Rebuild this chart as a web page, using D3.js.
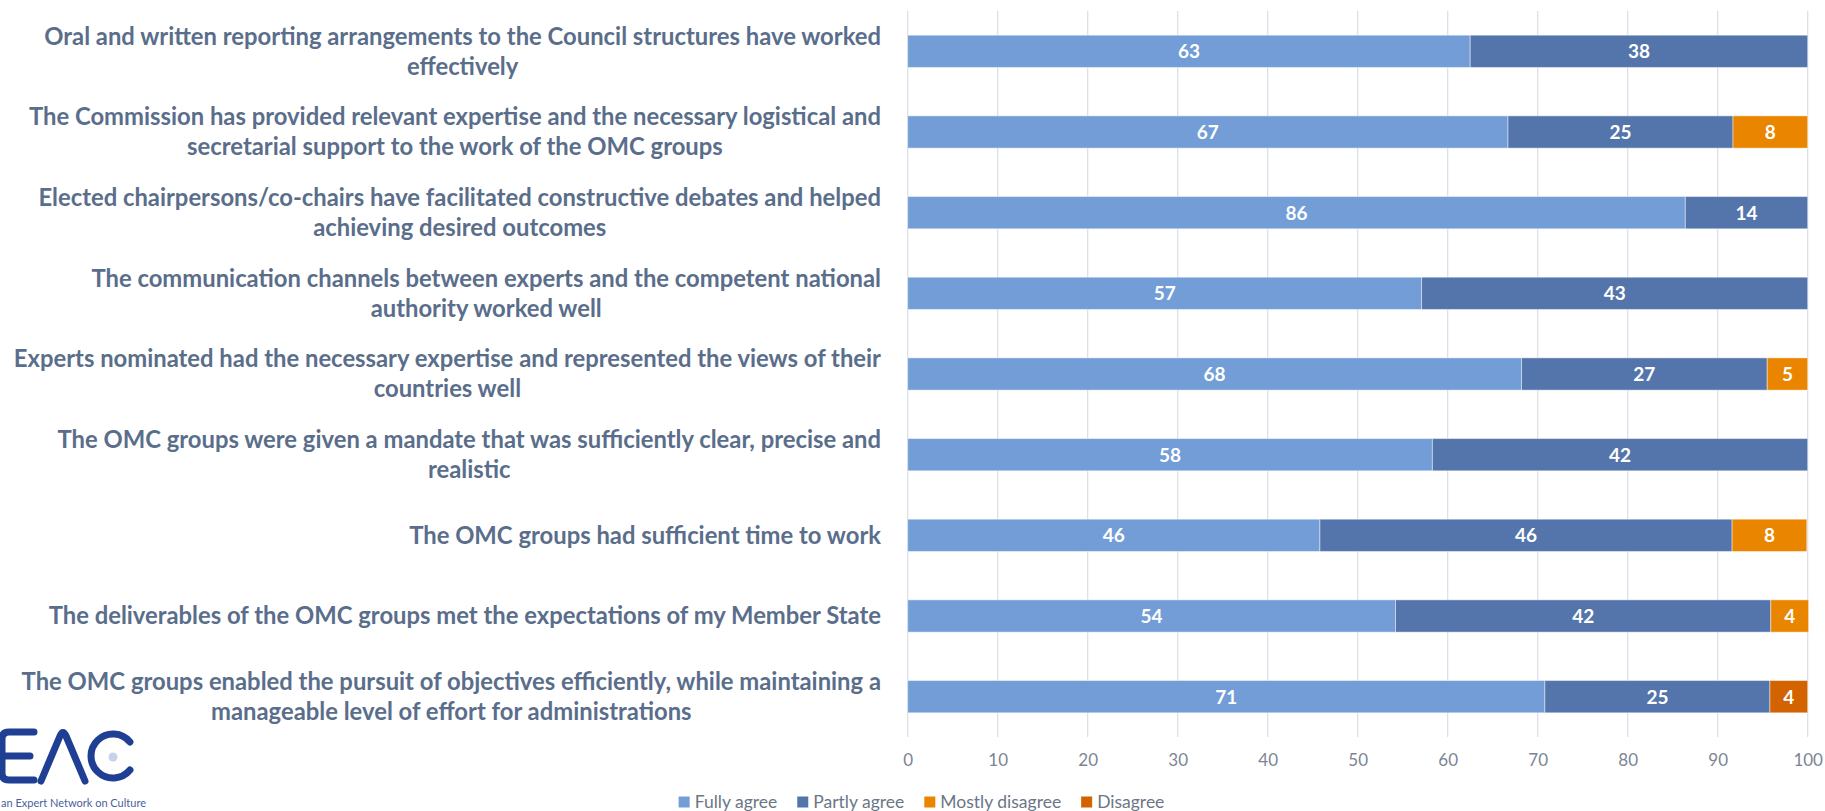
<!DOCTYPE html>
<html>
<head>
<meta charset="utf-8">
<script src="https://cdn.jsdelivr.net/npm/d3@7"></script>
<style>
  html, body { margin: 0; padding: 0; background: #fff; }
  svg { display: block; }
</style>
</head>
<body>
<svg id="chart" width="1825" height="811"></svg>
<script>
// ---- data ----
const categories = [
  "Oral and written reporting arrangements to the Council structures have worked\neffectively",
  "The Commission has provided relevant expertise and the necessary logistical and\nsecretarial support to the work of the OMC groups",
  "Elected chairpersons/co-chairs have facilitated constructive debates and helped\nachieving desired outcomes",
  "The communication channels between experts and the competent national\nauthority worked well",
  "Experts nominated had the necessary expertise and represented the views of their\ncountries well",
  "The OMC groups were given a mandate that was sufficiently clear, precise and\nrealistic",
  "The OMC groups had sufficient time to work",
  "The deliverables of the OMC groups met the expectations of my Member State",
  "The OMC groups enabled the pursuit of objectives efficiently, while maintaining a\nmanageable level of effort for administrations"
];
const seriesNames = ["Fully agree", "Partly agree", "Mostly disagree", "Disagree"];
const fullyAgree     = [62.5, 66.7, 86.4, 57.1, 68.2, 58.3, 45.8, 54.2, 70.8];
const partlyAgree    = [37.5, 25.0, 13.6, 42.9, 27.3, 41.7, 45.8, 41.7, 25.0];
const mostlyDisagree = [0,    8.3,  0,    0,    4.5,  0,    8.3,  4.2,  0];
const disagree       = [0,    0,    0,    0,    0,    0,    0,    0,    4.2];
const xTicks = [0, 10, 20, 30, 40, 50, 60, 70, 80, 90, 100];
const colors = ["#729dd6", "#5475ab", "#ea8500", "#d26300"];

// ---- layout ----
const svg = d3.select("#chart");
const plot = { left: 907.7, right: 1807.7, top: 11, bottom: 737 };
const x = d3.scaleLinear().domain([0, 100]).range([plot.left, plot.right]);
const y = d3.scaleBand().domain(d3.range(categories.length))
  .range([plot.top, plot.bottom]).paddingInner(0.6).paddingOuter(0.3);

const rows = categories.map((c, i) => ({
  i, c,
  "Fully agree": fullyAgree[i],
  "Partly agree": partlyAgree[i],
  "Mostly disagree": mostlyDisagree[i],
  "Disagree": disagree[i]
}));
const stacked = d3.stack().keys(seriesNames)(rows);

// gridlines
svg.append("g").selectAll("line").data(xTicks).join("line")
  .attr("x1", d => x(d)).attr("x2", d => x(d))
  .attr("y1", plot.top).attr("y2", plot.bottom)
  .attr("stroke", "#d9dee7").attr("stroke-width", 1.2);

// bars
const layers = svg.append("g").selectAll("g").data(stacked).join("g")
  .attr("fill", (d, k) => colors[k]);
layers.selectAll("rect").data(d => d.filter(p => p[1] - p[0] > 0)).join("rect")
  .attr("x", d => x(d[0]))
  .attr("width", d => x(d[1]) - x(d[0]))
  .attr("y", d => y(d.data.i))
  .attr("height", y.bandwidth())
  .attr("stroke", "rgba(255,255,255,0.45)").attr("stroke-width", 1);

// data labels
layers.selectAll("text").data(d => d.filter(p => p[1] - p[0] > 0)).join("text")
  .attr("x", d => (x(d[0]) + x(d[1])) / 2)
  .attr("y", d => y(d.data.i) + y.bandwidth() / 2)
  .attr("dy", "0.36em")
  .attr("text-anchor", "middle")
  .attr("fill", "#fff")
  .attr("font-family", "Lato, 'Open Sans', sans-serif")
  .attr("font-weight", 700)
  .attr("font-size", 19)
  .text(d => (d[1] - d[0]).toFixed(0));

// x axis tick labels
const xAxis = d3.axisBottom(x).tickValues(xTicks).tickSize(0).tickPadding(0);
const ax = svg.append("g").attr("transform", `translate(0,${plot.bottom + 17})`).call(xAxis);
ax.select(".domain").remove();
ax.selectAll("text")
  .attr("fill", "#7b8594")
  .attr("font-family", "Lato, 'Open Sans', sans-serif")
  .attr("font-size", 17);

// category labels
const labelRight = 881;
const labelFont = "Lato, 'Open Sans', sans-serif";
const lab = svg.append("g").attr("font-family", labelFont).attr("font-weight", 700)
  .attr("fill", "#5a6e8b");
const probe = lab.append("text").attr("font-size", 20).text(categories[0].split("\n")[0]);
const w20 = probe.node().getComputedTextLength();
probe.remove();
const fs = 20 * 837 / w20;
lab.attr("font-size", fs);
const lineH = 30;
categories.forEach((c, i) => {
  const lines = c.split("\n");
  const cy = y(i) + y.bandwidth() / 2;
  const g = lab.append("g");
  const texts = lines.map((ln, j) => g.append("text")
    .attr("y", cy + (j - (lines.length - 1) / 2) * lineH)
    .attr("dy", "0.35em").text(ln));
  const maxW = d3.max(texts, t => t.node().getComputedTextLength());
  const cx = labelRight - maxW / 2;
  texts.forEach(t => t.attr("x", cx).attr("text-anchor", "middle"));
});

// legend (laid out by measured widths, centred like the reference)
const legendFont = 17.5;
const leg = svg.append("g").attr("font-family", "Lato, 'Open Sans', sans-serif")
  .attr("font-size", legendFont).attr("fill", "#6b7686");
const sq = 11, sqGap = 5, itemGap = 20;
const items = seriesNames.map((s, k) => {
  const g = leg.append("g");
  g.append("rect").attr("x", 0).attr("y", -sq / 2).attr("width", sq).attr("height", sq).attr("fill", colors[k]);
  const t = g.append("text").attr("x", sq + sqGap).attr("dy", "0.35em").text(s);
  return { g, w: sq + sqGap + t.node().getComputedTextLength() };
});
const totalW = d3.sum(items, d => d.w) + itemGap * (items.length - 1);
let lx = 921.5 - totalW / 2;
items.forEach(it => { it.g.attr("transform", `translate(${lx},802)`); lx += it.w + itemGap; });

// logo (EAC)
const logo = svg.append("g").attr("fill", "none").attr("stroke", "#1f3f95")
  .attr("stroke-width", 7).attr("stroke-linecap", "round").attr("stroke-linejoin", "round");
logo.append("path").attr("d", "M34,732 H9 Q2,732 2,739 V773 Q2,780 9,780 H34 M2,756 H30");
logo.append("path").attr("d", "M41,781 L60,736 Q63,729 66,736 L85,781");
logo.append("path").attr("transform", "translate(113,756)")
  .attr("d", (() => { const p = d3.path(); p.arc(0, 0, 22, -Math.PI * 0.22, Math.PI * 0.22, true); return p.toString(); })());
svg.append("circle").attr("cx", 113).attr("cy", 757).attr("r", 4.5).attr("fill", "#c9d1ec");
svg.append("text").attr("x", 1).attr("y", 803).attr("dy", "0.35em")
  .attr("font-family", "Lato, 'Open Sans', sans-serif").attr("font-size", 11)
  .attr("fill", "#4a5f99").text("an Expert Network on Culture");
</script>
</body>
</html>
